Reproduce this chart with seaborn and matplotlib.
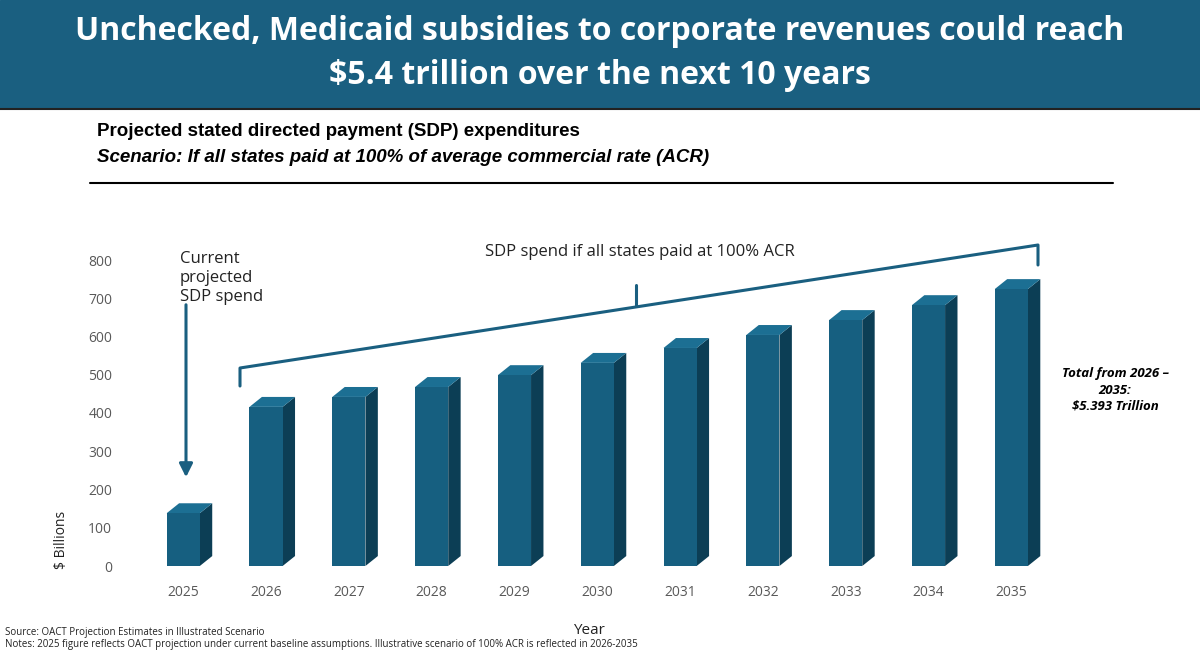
import matplotlib
matplotlib.use("Agg")
import matplotlib.pyplot as plt
import seaborn as sns
import pandas as pd
from matplotlib.patches import Polygon, Rectangle, FancyArrowPatch
from matplotlib.lines import Line2D

years = ["2025", "2026", "2027", "2028", "2029", "2030", "2031", "2032", "2033", "2034", "2035"]
spend = [138, 416, 442, 468, 499, 531, 570, 604, 643, 682, 724]
yticks = [0, 100, 200, 300, 400, 500, 600, 700, 800]

FRONT = "#165f80"
SIDE = "#0c3e55"
TOP = "#1c6f93"

sns.set_theme(style="white")
plt.rcParams['font.family'] = ['Open Sans', 'DejaVu Sans']

W, H = 1200, 651
fig = plt.figure(figsize=(12, 6.51), dpi=100)

def px(x, y):
    return (x / W, 1 - y / H)

# header band
fig.patches.append(Rectangle((0, 1 - 108 / H), 1, 108 / H, transform=fig.transFigure,
                             color="#1a5f80", zorder=0))
fig.lines.append(Line2D([0, 1], [1 - 109 / H] * 2, transform=fig.transFigure, color="#222222", lw=1.5))
fig.text(*px(600, 32), "Unchecked, Medicaid subsidies to corporate revenues could reach",
         color="white", fontsize=23, fontweight="bold", ha="center", va="center")
fig.text(*px(600, 76), "$5.4 trillion over the next 10 years",
         color="white", fontsize=23, fontweight="bold", ha="center", va="center")

fig.text(*px(97, 131), "Projected stated directed payment (SDP) expenditures",
         fontsize=13.5, fontweight="bold", family="Liberation Sans", va="center", color="black")
fig.text(*px(97, 158), "Scenario: If all states paid at 100% of average commercial rate (ACR)",
         fontsize=13.5, fontweight="bold", style="italic", family="Liberation Sans", va="center", color="black")
fig.lines.append(Line2D([90 / W, 1113 / W], [1 - 183 / H] * 2, transform=fig.transFigure, color="black", lw=1.5))

ax = fig.add_axes([117 / W, 1 - 566 / H, (1061 - 117) / W, 850 * 0.3825 / H])
df = pd.DataFrame({"year": years, "spend": spend})
sns.barplot(data=df, x="year", y="spend", color=FRONT, saturation=1, width=0.4, ax=ax,
            zorder=3, edgecolor="none", linewidth=0)
ax.set_xlim(-0.8, 10.6)
ax.set_ylim(0, 850)

dx, dy = 0.15, 26
for i, v in enumerate(spend):
    l, r = i - 0.2, i + 0.2
    ax.add_patch(Polygon([(r, 0), (r + dx, dy), (r + dx, v + dy), (r, v)], closed=True,
                         facecolor=SIDE, edgecolor="none", zorder=2))
    ax.add_patch(Polygon([(l, v), (r, v), (r + dx, v + dy), (l + dx, v + dy)], closed=True,
                         facecolor=TOP, edgecolor="none", zorder=2))

for s in ax.spines.values():
    s.set_visible(False)
ax.set_yticks(yticks)
ax.tick_params(axis="both", labelsize=10, colors="#595959", length=0)
ax.tick_params(axis="x", pad=14)
ax.set_xlabel("Year", fontsize=11, color="#222222", labelpad=16)
ax.set_ylabel("")
fig.text(*px(62, 540), "$ Billions", rotation=90, fontsize=10, ha="center", va="center", color="#222222")

# annotations
blue = "#1a5f80"
fig.lines.append(Line2D([240 / W, 240 / W, 1038 / W, 1038 / W],
                        [1 - 386 / H, 1 - 368 / H, 1 - 245 / H, 1 - 265 / H],
                        transform=fig.transFigure, color=blue, lw=2.2))
fig.lines.append(Line2D([636 / W, 636 / W], [1 - 306 / H, 1 - 285 / H],
                        transform=fig.transFigure, color=blue, lw=2.2))
fig.text(*px(640, 252), "SDP spend if all states paid at 100% ACR", fontsize=12,
         ha="center", va="center", color="#222222")
fig.text(*px(180, 278), "Current\nprojected\nSDP spend", fontsize=12, ha="left", va="center",
         color="#222222", linespacing=1.25)
fig.patches.append(FancyArrowPatch(
    px(186, 302), px(186, 480), transform=fig.transFigure, arrowstyle="-|>,head_width=4,head_length=8",
    color=blue, lw=2.2))
fig.text(*px(1115, 390), "Total from 2026 –\n2035:\n$5.393 Trillion", fontsize=9.5,
         fontweight="bold", style="italic", ha="center", va="center", color="black", linespacing=1.35)

fig.text(*px(5, 633), "Source: OACT Projection Estimates in Illustrated Scenario", fontsize=7, va="center",
         color="#222222")
fig.text(*px(5, 644), "Notes: 2025 figure reflects OACT projection under current baseline assumptions. "
         "Illustrative scenario of 100% ACR is reflected in 2026-2035", fontsize=7, va="center", color="#222222")

fig.savefig("out.png", dpi=100)
